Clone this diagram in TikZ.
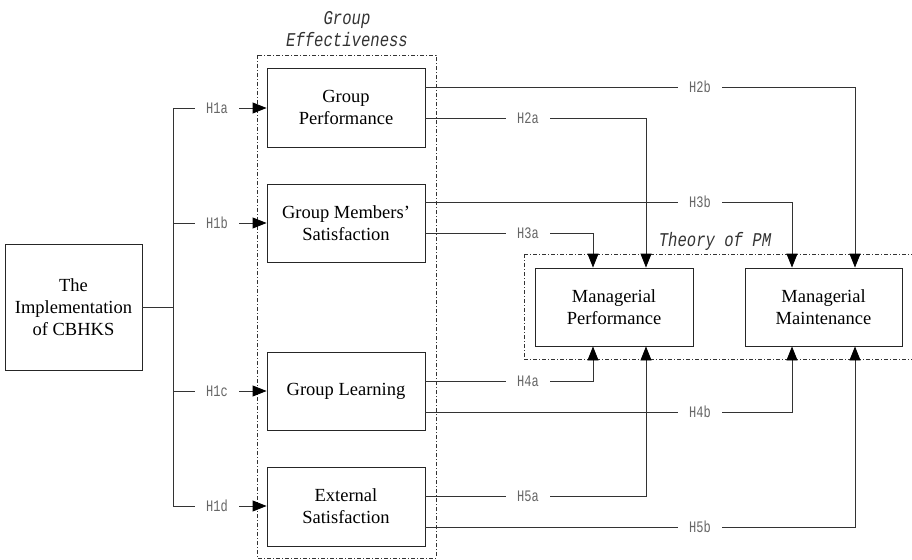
\documentclass[tikz,border=0pt]{standalone}
\usepackage{fontspec}
\setmainfont{Liberation Serif}
\newfontfamily\lblfont[FakeStretch=0.75]{Liberation Mono}
\newfontfamily\ttlfont[FakeStretch=0.8]{Liberation Mono}
\usetikzlibrary{arrows.meta}
\begin{document}
\begin{tikzpicture}[x=1pt,y=-1pt,
  box/.style={draw=black!85,line width=0.9pt,align=center,inner sep=2pt,
    font=\fontsize{18.5}{22}\selectfont,minimum width=158pt},
  conn/.style={draw=black!80,line width=0.9pt},
  arr/.style={conn,-{Triangle[length=14pt,width=11pt,color=black]}},
  hyp/.style={fill=white,text=black!60,inner xsep=11pt,inner ysep=1pt,
    font=\lblfont\fontsize{16}{18}\selectfont},
  frame/.style={draw=black!80,line width=0.7pt,dash pattern=on 4pt off 2pt on 1pt off 2pt},
  ttl/.style={text=black!80,align=center,font=\ttlfont\itshape\fontsize{19.5}{22}\selectfont}]
\useasboundingbox (0,0) rectangle (912,559);

% dash-dot group frames
\draw[frame] (257,55) rectangle (436,558);
\draw[frame] (524,254) -- (914,254);
\draw[frame] (524,359) -- (914,359);
\draw[frame] (524,254) -- (524,359);
\node[ttl] (getitle) at (347,29) {Group\\Effectiveness};
\node[ttl] (pmtitle) at (715,241) {Theory of PM};

% boxes
\node[box,minimum width=137pt,minimum height=126pt] (cb) at (73.5,307) {The\\Implementation\\of CBHKS};
\node[box,minimum height=79pt] (gp) at (346,107.5) {Group\\Performance};
\node[box,minimum height=78pt] (gs) at (346,223) {Group Members’\\Satisfaction};
\node[box,minimum height=78pt] (gl) at (346,391) {Group Learning};
\node[box,minimum height=79pt] (es) at (346,506.5) {External\\Satisfaction};
\node[box,minimum height=78pt] (mp) at (614,307) {Managerial\\Performance};
\node[box,minimum width=157pt,minimum height=78pt] (mm) at (823.5,307) {Managerial\\Maintenance};

% trunk from the implementation box
\coordinate (tr) at (173,307);
\draw[conn] (cb.east) -- (tr);
\draw[conn] (tr |- 0,108) -- (tr |- 0,506);
\draw[arr] (tr |- 0,108) -- (gp.west |- 0,108);
\draw[arr] (tr |- 0,223) -- (gs.west |- 0,223);
\draw[arr] (tr |- 0,391) -- (gl.west |- 0,391);
\draw[arr] (tr |- 0,506) -- (es.west |- 0,506);
\node[hyp] (h1a) at (217,108) {H1a};
\node[hyp] (h1b) at (217,223) {H1b};
\node[hyp] (h1c) at (217,391) {H1c};
\node[hyp] (h1d) at (217,506) {H1d};

% paths into managerial performance / maintenance
\draw[arr] (gp.east |- 0,87) -| (mm.north -| 855,0);
\draw[arr] (gp.east |- 0,118) -| (mp.north -| 646,0);
\draw[arr] (gs.east |- 0,202) -| (mm.north -| 792,0);
\draw[arr] (gs.east |- 0,233) -| (mp.north -| 593,0);
\draw[arr] (gl.east |- 0,381) -| (mp.south -| 593,0);
\draw[arr] (gl.east |- 0,412) -| (mm.south -| 792,0);
\draw[arr] (es.east |- 0,496) -| (mp.south -| 646,0);
\draw[arr] (es.east |- 0,527) -| (mm.south -| 855,0);

\node[hyp] (h2b) at (700,87) {H2b};
\node[hyp] (h2a) at (528,118) {H2a};
\node[hyp] (h3b) at (700,202) {H3b};
\node[hyp] (h3a) at (528,233) {H3a};
\node[hyp] (h4a) at (528,381) {H4a};
\node[hyp] (h4b) at (700,412) {H4b};
\node[hyp] (h5a) at (528,496) {H5a};
\node[hyp] (h5b) at (700,527) {H5b};
\end{tikzpicture}
\end{document}
